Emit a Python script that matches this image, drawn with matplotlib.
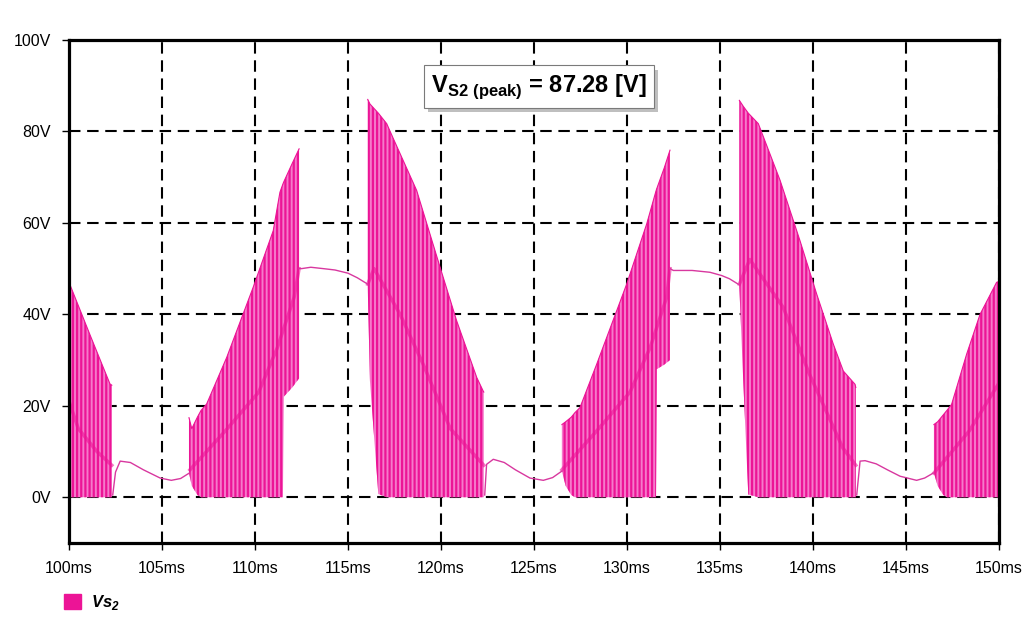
import numpy as np
import matplotlib
matplotlib.use("Agg")
import matplotlib.pyplot as plt
from matplotlib.patches import Patch
import matplotlib.patheffects as pe

plt.rcParams['font.family'] = ['Liberation Sans', 'DejaVu Sans']
plt.rcParams['mathtext.fontset'] = 'custom'
plt.rcParams['mathtext.rm'] = 'Liberation Sans'
plt.rcParams['mathtext.bf'] = 'Liberation Sans:bold'
plt.rcParams['mathtext.bfit'] = 'Liberation Sans:bold:italic'
plt.rcParams['hatch.linewidth'] = 1.6

# switching bursts: time (ms), upper envelope (V), lower envelope (V)
burstA_t   = [100.0, 101.13, 102.2, 102.3]
burstA_top = [47.0, 35.5, 24.8, 24.5]
burstA_bot = [0.0, 0.0, 0.0, 0.0]

burstB_t   = [106.45, 106.6, 106.9, 107.1, 107.4, 108.48, 109.9, 110.98, 111.34, 111.5, 111.55, 112.0, 112.37]
burstB_top = [17.4, 15.0, 17.5, 19.0, 20.4, 30.6, 45.9, 58.3, 66.7, 68.5, 69.0, 73.0, 76.2]
burstB_bot = [5.3, 2.5, 0.5, 0.0, 0.0, 0.0, 0.0, 0.0, 0.0, 0.0, 22.0, 24.0, 26.0]

burstC_t   = [116.06, 116.18, 116.63, 117.08, 117.44, 118.69, 119.95, 120.84, 121.92, 122.27, 122.3]
burstC_top = [87.0, 86.0, 84.0, 81.7, 78.4, 67.1, 50.3, 38.6, 26.2, 23.2, 23.0]
burstC_bot = [46.0, 25.4, 0.7, 0.0, 0.0, 0.0, 0.0, 0.0, 0.0, 0.0, 0.0]

burstD_t   = [126.5, 126.7, 127.0, 127.2, 127.47, 128.37, 129.98, 131.06, 131.56, 131.6, 132.0, 132.31]
burstD_top = [15.9, 16.5, 17.5, 18.5, 19.6, 29.1, 46.6, 59.8, 67.0, 67.5, 72.0, 75.9]
burstD_bot = [5.7, 2.5, 0.5, 0.0, 0.0, 0.0, 0.0, 0.0, 0.0, 28.0, 29.0, 30.0]

burstE_t   = [136.04, 136.25, 136.52, 137.06, 138.23, 139.3, 140.2, 141.09, 141.63, 142.26, 142.3]
burstE_top = [86.8, 85.5, 84.0, 81.7, 69.3, 56.1, 44.4, 33.5, 27.6, 24.7, 24.0]
burstE_bot = [45.9, 25.4, 0.6, 0.0, 0.0, 0.0, 0.0, 0.0, 0.0, 0.0, 0.0]

burstF_t   = [146.5, 146.7, 147.0, 147.2, 147.45, 148.26, 148.98, 149.87, 150.0]
burstF_top = [15.9, 16.5, 18.0, 19.0, 20.3, 31.3, 40.0, 47.0, 47.2]
burstF_bot = [5.3, 2.5, 0.5, 0.0, 0.0, 0.0, 0.0, 0.0, 0.0]

# smooth (non-switching) intervals
low1_t = [102.35, 102.5, 102.75, 103.3, 104.0, 104.9, 105.5, 106.0, 106.47]
low1_v = [0.5, 5.5, 7.9, 7.6, 6.0, 4.2, 3.7, 4.1, 5.3]
low2_t = [122.35, 122.45, 122.81, 123.4, 124.0, 124.78, 125.5, 126.0, 126.49]
low2_v = [0.5, 7.2, 8.3, 7.6, 6.0, 4.2, 3.7, 4.3, 5.7]
low3_t = [142.35, 142.53, 142.8, 143.4, 144.0, 144.68, 145.57, 146.0, 146.47]
low3_v = [0.5, 7.9, 8.0, 7.3, 6.0, 4.6, 3.7, 4.2, 5.3]
high1_t = [112.37, 112.5, 113.0, 113.67, 114.3, 115.0, 115.5, 116.06]
high1_v = [50.0, 50.0, 50.3, 50.0, 49.7, 49.0, 48.0, 46.6]
high2_t = [132.31, 132.49, 133.5, 134.46, 135.08, 135.5, 135.98]
high2_v = [50.0, 49.6, 49.6, 49.2, 48.5, 47.8, 46.6]

# darker mean trace visible inside the bursts
innerA_t = [100.0, 100.5, 101.5, 102.3]
innerA_v = [21.0, 15.0, 10.0, 7.0]
innerB_t = [106.5, 108.4, 110.2, 111.2, 112.1, 112.37]
innerB_v = [6.0, 14.5, 23.0, 32.7, 43.7, 50.0]
innerC_t = [116.06, 116.4, 117.8, 119.05, 120.5, 122.3]
innerC_v = [46.6, 50.0, 40.0, 29.0, 15.0, 7.0]
innerD_t = [126.5, 128.37, 130.16, 131.24, 132.13, 132.31]
innerD_v = [6.0, 14.5, 23.0, 32.7, 43.7, 50.0]
innerE_t = [136.04, 136.6, 138.4, 139.8, 141.6, 142.3]
innerE_v = [46.6, 52.0, 41.5, 27.0, 10.8, 7.0]
innerF_t = [146.5, 148.4, 150.0]
innerF_v = [5.3, 14.5, 25.0]

x_ticks = np.arange(100, 151, 5)
y_ticks = [0, 20, 40, 60, 80, 100]
peak_value = 87.28
series_name = r'$\mathbfit{Vs}_{\mathbfit{2}}$'

fill_light = '#f57acb'
fill_dark = '#ec1496'
line_col = '#d8389f'

fig = plt.figure(figsize=(10.24, 6.4), dpi=100)
ax = fig.add_axes([0.0674, 0.1516, 0.9082, 0.7859])

bursts = [(burstA_t, burstA_top, burstA_bot), (burstB_t, burstB_top, burstB_bot),
          (burstC_t, burstC_top, burstC_bot), (burstD_t, burstD_top, burstD_bot),
          (burstE_t, burstE_top, burstE_bot), (burstF_t, burstF_top, burstF_bot)]
for t, top, bot in bursts:
    ax.fill_between(t, bot, top, facecolor=fill_light, edgecolor=fill_dark,
                    hatch='||||', linewidth=0, zorder=2)
    ax.plot(t, top, color=fill_dark, lw=0.8, zorder=3)

for t, v in [(innerA_t, innerA_v), (innerB_t, innerB_v), (innerC_t, innerC_v),
             (innerD_t, innerD_v), (innerE_t, innerE_v), (innerF_t, innerF_v)]:
    ax.plot(t, v, color=fill_dark, lw=2.5, alpha=0.6, zorder=3)

for t, v in [(low1_t, low1_v), (low2_t, low2_v), (low3_t, low3_v), (high1_t, high1_v), (high2_t, high2_v)]:
    ax.plot(t, v, color=line_col, lw=1.0, zorder=3)

ax.set_xlim(100, 150)
ax.set_ylim(-10, 100)
ax.set_xticks(x_ticks)
ax.set_xticklabels([f'{x}ms' for x in x_ticks])
ax.set_yticks(y_ticks)
ax.set_yticklabels([f'{y}V' for y in y_ticks])
ax.tick_params(labelsize=11.5, length=5, width=1, pad=8, colors='black')
ax.grid(True, color='black', lw=1.5, linestyle=(0, (5.5, 3.2)), zorder=4)
for s in ax.spines.values():
    s.set_linewidth(2.3)
    s.set_zorder(5)

txt = ax.text(0.505, 0.907, r'$\mathbf{V}_{\mathbf{S2\ (peak)}}$' + ' = %.2f [V]' % peak_value,
              transform=ax.transAxes, ha='center', va='center', fontsize=17, fontweight='bold', zorder=6,
              bbox=dict(boxstyle='square,pad=0.3', facecolor='white', edgecolor='#7a7a7a', lw=0.8))
txt.get_bbox_patch().set_path_effects([pe.SimplePatchShadow(offset=(3, -3), shadow_rgbFace='gray', alpha=0.5), pe.Normal()])

handle = Patch(facecolor=fill_dark, edgecolor=fill_dark, label=series_name)
fig.legend(handles=[handle], loc='lower left', bbox_to_anchor=(0.048, 0.02), frameon=False,
           fontsize=12, handlelength=1.0, handleheight=1.0, handletextpad=0.6)

fig.savefig('out.png', dpi=100)
